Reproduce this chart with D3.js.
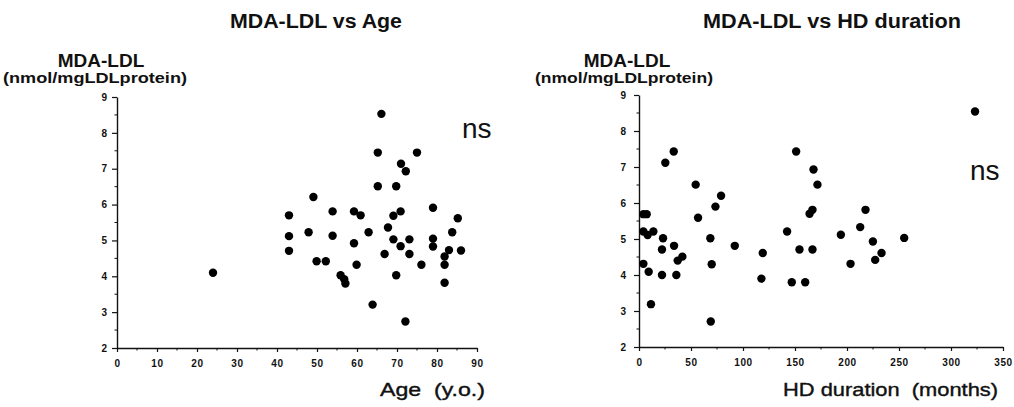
<!DOCTYPE html>
<html><head><meta charset="utf-8">
<script src="https://cdn.jsdelivr.net/npm/d3@7"></script>
<style>
html,body{margin:0;padding:0;background:#fff;}
svg{display:block;font-family:"Liberation Sans",Arial,Helvetica,sans-serif;}
text{white-space:pre;}
</style></head>
<body><svg id="c" width="1014" height="407"></svg>
<script>
// ---- data ----
const ageX = [24,43,43,43,66.1,65.2,75,71,72.2,65.2,69.8,49.1,53.9,59.25,60.9,69.1,70.9,79,85.2,47.9,53.9,62.9,67.75,83.8,69.1,73.1,79,79,59.25,70.9,83,86,81.9,73.1,66.9,49.9,52.2,59.9,76.1,81.9,55.9,69.8,56.8,57.1,81.9,63.9,72.1];
const ageY = [4.1,5.7,5.12,4.71,8.53,7.45,7.45,7.14,6.93,6.51,6.51,6.21,5.81,5.81,5.70,5.69,5.81,5.91,5.62,5.23,5.13,5.23,5.36,5.23,5.03,5.03,5.05,4.83,4.92,4.84,4.73,4.72,4.55,4.62,4.62,4.42,4.42,4.32,4.32,4.32,4.03,4.03,3.92,3.80,3.82,3.21,2.74];
const hdX = [4.2,7.4,4.2,8.3,13.8,4.2,9.3,11.5,25.3,33.4,23.1,22.1,33.7,22.1,35.9,37.2,41.7,54.5,56.8,73.5,78.9,68.6,69.9,69,92.1,119,117.7,142.4,146.9,151.1,167.8,171.6,166.8,164,154.3,166.8,159.8,194.1,212.7,217.8,224.9,233.2,227.1,203.4,255,323.1];
const hdY = [5.69,5.69,5.21,5.11,5.21,4.31,4.09,3.19,7.12,7.43,5.02,4.71,4.81,4.0,4.0,4.40,4.51,6.51,5.59,5.90,6.20,5.02,4.30,2.71,4.81,4.61,3.90,5.21,3.80,7.43,6.93,6.51,5.81,5.70,4.71,4.71,3.80,5.12,5.33,5.81,4.93,4.61,4.42,4.31,5.03,8.54];
const yTicks = [2,3,4,5,6,7,8,9];
const ageTicks = [0,10,20,30,40,50,60,70,80,90];
const hdTicks = [0,50,100,150,200,250,300,350];
const titles = ["MDA-LDL vs Age","MDA-LDL vs HD duration"];
const yLabel1 = "MDA-LDL", yLabel2 = "(nmol/mgLDLprotein)";
const xLabels = ["Age  (y.o.)","HD duration  (months)"];

const svg = d3.select("#c");
const F = '"Liberation Sans",Arial,Helvetica,sans-serif';

function panel(cfg){
  const g = svg.append("g");
  const x = d3.scaleLinear().domain(cfg.xdom).range(cfg.xr);
  const y = d3.scaleLinear().domain([2,9]).range(cfg.yr);
  // y axis
  const ya = d3.axisLeft(y).tickValues(yTicks).tickFormat(d3.format("d")).tickSize(5).tickPadding(cfg.yPad).tickSizeOuter(0);
  const yg = g.append("g").attr("transform",`translate(${cfg.xr[0]},0)`).call(ya);
  yg.select(".domain").attr("stroke","#111").attr("stroke-width",1.4);
  yg.selectAll(".tick line").attr("stroke","#111").attr("stroke-width",1.2);
  yg.selectAll(".tick text").attr("font-size",10).attr("font-weight","bold").attr("fill","#111").attr("font-family",F);
  const yMinor = d3.range(2.5,9,1);
  g.selectAll(".ym").data(yMinor).join("line")
    .attr("x1",cfg.xr[0]-2.5).attr("x2",cfg.xr[0]).attr("y1",d=>y(d)).attr("y2",d=>y(d))
    .attr("stroke","#111").attr("stroke-width",1);
  // x axis
  const xa = d3.axisBottom(x).tickValues(cfg.xt).tickFormat(d3.format("d")).tickSize(4).tickPadding(8).tickSizeOuter(0);
  const xg = g.append("g").attr("transform",`translate(0,${cfg.yr[0]})`).call(xa);
  xg.select(".domain").attr("stroke","#111").attr("stroke-width",1.4);
  xg.selectAll(".tick line").attr("stroke","#111").attr("stroke-width",1.2);
  xg.selectAll(".tick text").attr("font-size",10).attr("font-weight","bold").attr("fill","#111").attr("font-family",F)
    .attr("letter-spacing",0.6);
  g.selectAll(".xm").data(cfg.xminor).join("line")
    .attr("x1",d=>x(d)).attr("x2",d=>x(d)).attr("y1",cfg.yr[0]).attr("y2",cfg.yr[0]+2.5)
    .attr("stroke","#111").attr("stroke-width",1);
  // points
  g.selectAll("circle").data(cfg.xs.map((v,i)=>[v,cfg.ys[i]])).join("circle")
    .attr("cx",d=>x(d[0])).attr("cy",d=>y(d[1])).attr("r",4.2).attr("fill","#000");
  // texts
  g.append("text").attr("x",cfg.titleX).attr("y",28).attr("text-anchor","middle")
    .attr("font-size",20).attr("font-weight","bold").attr("font-family",F).attr("fill","#111")
    .attr("textLength",cfg.titleW).attr("lengthAdjust","spacingAndGlyphs").text(cfg.title);
  g.append("text").attr("x",cfg.lblX).attr("y",66.5).attr("text-anchor","middle")
    .attr("font-size",19).attr("font-weight","bold").attr("font-family",F).attr("fill","#111").text(yLabel1);
  g.append("text").attr("x",cfg.lblX2).attr("y",83).attr("text-anchor","middle")
    .attr("font-size",14.5).attr("font-weight","bold").attr("font-family",F).attr("fill","#111")
    .attr("textLength",cfg.lblW).attr("lengthAdjust","spacingAndGlyphs").text(yLabel2);
  g.append("text").attr("x",cfg.xlblX).attr("y",396).attr("text-anchor","start")
    .attr("font-size",19).attr("font-family",F).attr("fill","#111").attr("stroke","#111").attr("stroke-width",0.4)
    .attr("textLength",cfg.xlblW).attr("lengthAdjust","spacingAndGlyphs").text(cfg.xlabel);
  g.append("text").attr("x",cfg.nsX).attr("y",cfg.nsY).attr("text-anchor","start")
    .attr("font-size",28).attr("font-family",F).attr("fill","#111").text("ns");
}

panel({xdom:[0,90],xr:[117,477],yr:[348,97],xt:ageTicks,xminor:d3.range(5,90,10),xs:ageX,ys:ageY,
  yPad:5,title:titles[0],titleX:316,titleW:172,lblX:101,lblX2:95,lblW:184,xlabel:xLabels[0],xlblX:380,xlblW:105,nsX:462,nsY:138});
panel({xdom:[0,350],xr:[639,1003],yr:[347,95],xt:hdTicks,xminor:d3.range(25,350,50),xs:hdX,ys:hdY,
  yPad:8,title:titles[1],titleX:832,titleW:258,lblX:627,lblX2:624,lblW:178,xlabel:xLabels[1],xlblX:783,xlblW:215,nsX:970,nsY:180});
</script></body></html>
